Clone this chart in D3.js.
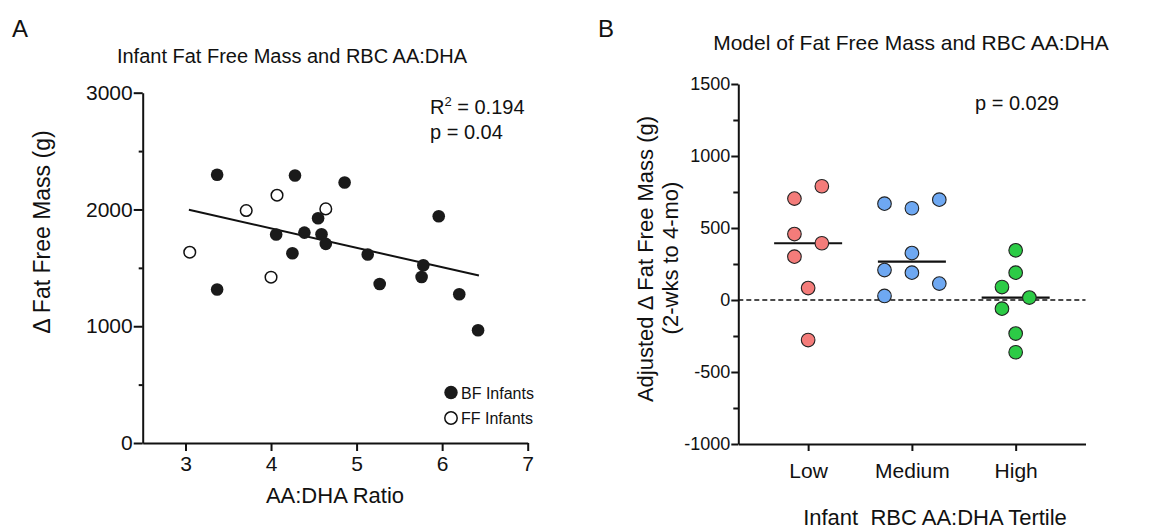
<!DOCTYPE html>
<html>
<head>
<meta charset="utf-8">
<script src="https://cdn.jsdelivr.net/npm/d3@7"></script>
<style>
  body { margin: 0; background: #fff; }
  svg text { font-family: "Liberation Sans", Arial, sans-serif; fill: #111; }
</style>
</head>
<body>
<div id="chart"></div>
<script>
// Panel A: infant fat free mass vs RBC AA:DHA ratio
const bfRatio = [3.37, 3.37, 4.28, 4.86, 4.06, 4.25, 4.39, 4.55, 4.59, 4.64, 5.13, 5.27, 5.78, 5.76, 5.96, 6.20, 6.42];
const bfMass = [2297, 1314, 2291, 2231, 1785, 1625, 1802, 1925, 1788, 1705, 1614, 1362, 1522, 1422, 1942, 1274, 965];
const ffRatio = [3.05, 3.71, 4.07, 4.64, 4.00];
const ffMass = [1634, 1991, 2122, 2005, 1420];
const fitRatio = [3.04, 6.43];
const fitMass = [1997, 1434];
const ratioTicks = [3, 4, 5, 6, 7];
const massTicks = [0, 1000, 2000, 3000];
const massMinor = [500, 1500, 2500];

// Panel B: adjusted change by tertile
const tertiles = ["Low", "Medium", "High"];
const lowValues = [704, 790, 458, 394, 301, 83, -278];
const lowSlot = [-1, 1, -1, 1, -1, 0, 0];
const mediumValues = [669, 637, 697, 326, 208, 190, 114, 28];
const mediumSlot = [-2, 0, 2, 0, -2, 0, 2, -2];
const highValues = [345, 190, 90, 17, -60, -233, -363];
const highSlot = [0, 0, -1, 1, -1, 0, 0];
const adjTicks = [-1000, -500, 0, 500, 1000, 1500];
const adjMinor = [-750, -250, 250, 750, 1250];
const tertileColors = ["#f47c7a", "#6ea8f2", "#2ccb46"];

// plain labels with an ascii hyphen, like the original figure
const plain = (d) => String(d);

const svg = d3.select("#chart")
  .append("svg")
  .attr("width", 1160)
  .attr("height", 530);

svg.append("rect").attr("width", 1160).attr("height", 530).attr("fill", "#fff");

// ---------- Panel A ----------
const xA = d3.scaleLinear().domain([2.5, 7]).range([142.7, 527.7]);
const yA = d3.scaleLinear().domain([0, 3000]).range([443, 92.7]);

svg.append("text").attr("x", 12).attr("y", 37).style("font-size", "24px").text("A");
svg.append("text").attr("x", 292).attr("y", 63).attr("text-anchor", "middle")
  .style("font-size", "20px").text("Infant Fat Free Mass and RBC AA:DHA");

const gA = svg.append("g");

// minor ticks first so the major axis draws over them
gA.append("g")
  .attr("transform", `translate(${xA(2.5)},0)`)
  .call(d3.axisLeft(yA).tickValues(massMinor).tickSize(4).tickFormat(""))
  .call((g) => g.select(".domain").remove())
  .call((g) => g.selectAll("line").attr("stroke", "#111").attr("stroke-width", 2));

gA.append("g")
  .attr("transform", `translate(${xA(2.5)},0)`)
  .call(d3.axisLeft(yA).tickValues(massTicks).tickFormat(plain).tickSize(9).tickSizeOuter(0).tickPadding(1))
  .call((g) => g.select(".domain").attr("stroke", "#111").attr("stroke-width", 2))
  .call((g) => g.selectAll("line").attr("stroke", "#111").attr("stroke-width", 2))
  .call((g) => g.selectAll("text").style("font-size", "21px").attr("fill", "#111"));

gA.append("g")
  .attr("transform", `translate(0,${yA(0)})`)
  .call(d3.axisBottom(xA).tickValues(ratioTicks).tickFormat(plain).tickSize(8).tickSizeOuter(0).tickPadding(5))
  .call((g) => g.select(".domain").attr("stroke", "#111").attr("stroke-width", 2))
  .call((g) => g.selectAll("line").attr("stroke", "#111").attr("stroke-width", 2))
  .call((g) => g.selectAll("text").style("font-size", "21px").attr("fill", "#111"));

svg.append("text").attr("x", 335).attr("y", 503).attr("text-anchor", "middle")
  .style("font-size", "22px").text("AA:DHA Ratio");

svg.append("text")
  .attr("transform", "translate(50,232) rotate(-90)")
  .attr("text-anchor", "middle")
  .style("font-size", "23px")
  .text("\u0394 Fat Free Mass (g)");

// regression line
gA.append("line")
  .attr("x1", xA(fitRatio[0])).attr("y1", yA(fitMass[0]))
  .attr("x2", xA(fitRatio[1])).attr("y2", yA(fitMass[1]))
  .attr("stroke", "#111").attr("stroke-width", 2);

gA.selectAll(".ff")
  .data(ffRatio)
  .enter()
  .append("circle")
  .attr("cx", (d) => xA(d))
  .attr("cy", (d, i) => yA(ffMass[i]))
  .attr("r", 5.8)
  .attr("fill", "#fff")
  .attr("stroke", "#111")
  .attr("stroke-width", 1.5);

gA.selectAll(".bf")
  .data(bfRatio)
  .enter()
  .append("circle")
  .attr("cx", (d) => xA(d))
  .attr("cy", (d, i) => yA(bfMass[i]))
  .attr("r", 6.3)
  .attr("fill", "#1a1a1a");

const statA = svg.append("text").attr("x", 430).attr("y", 114).style("font-size", "20px");
statA.append("tspan").text("R");
statA.append("tspan").attr("dy", -8).style("font-size", "13px").text("2");
statA.append("tspan").attr("dy", 8).text(" = 0.194");
svg.append("text").attr("x", 430).attr("y", 139).style("font-size", "20px").text("p = 0.04");

// legend
svg.append("circle").attr("cx", 451).attr("cy", 392.5).attr("r", 6.7).attr("fill", "#1a1a1a");
svg.append("circle").attr("cx", 451).attr("cy", 418).attr("r", 6.2)
  .attr("fill", "#fff").attr("stroke", "#111").attr("stroke-width", 1.5);
svg.append("text").attr("x", 461).attr("y", 398.5).style("font-size", "16px").text("BF Infants");
svg.append("text").attr("x", 461).attr("y", 424).style("font-size", "16px").text("FF Infants");

// ---------- Panel B ----------
const xB = d3.scalePoint().domain(tertiles).range([738.3, 1085.5]).padding(0.673);
const yB = d3.scaleLinear().domain([-1000, 1500]).range([444, 84]);
const slotWidth = 13.7;

svg.append("text").attr("x", 598).attr("y", 37).style("font-size", "24px").text("B");
svg.append("text").attr("x", 911).attr("y", 50).attr("text-anchor", "middle")
  .style("font-size", "21px").text("Model of Fat Free Mass and RBC AA:DHA");

const gB = svg.append("g");

gB.append("g")
  .attr("transform", `translate(${xB.range()[0]},0)`)
  .call(d3.axisLeft(yB).tickValues(adjMinor).tickSize(5).tickFormat(""))
  .call((g) => g.select(".domain").remove())
  .call((g) => g.selectAll("line").attr("stroke", "#111").attr("stroke-width", 2));

gB.append("g")
  .attr("transform", `translate(${xB.range()[0]},0)`)
  .call(d3.axisLeft(yB).tickValues(adjTicks).tickFormat(plain).tickSize(7).tickSizeOuter(0).tickPadding(1))
  .call((g) => g.select(".domain").attr("stroke", "#111").attr("stroke-width", 2))
  .call((g) => g.selectAll("line").attr("stroke", "#111").attr("stroke-width", 2))
  .call((g) => g.selectAll("text").style("font-size", "18px").attr("fill", "#111"));

gB.append("g")
  .attr("transform", `translate(0,${yB(-1000)})`)
  .call(d3.axisBottom(xB).tickSize(7).tickSizeOuter(0).tickPadding(12))
  .call((g) => g.select(".domain").attr("stroke", "#111").attr("stroke-width", 2))
  .call((g) => g.selectAll("line").attr("stroke", "#111").attr("stroke-width", 2))
  .call((g) => g.selectAll("text").style("font-size", "21px").attr("fill", "#111"));

svg.append("text").attr("x", 935).attr("y", 525).attr("text-anchor", "middle")
  .attr("xml:space", "preserve").style("white-space", "pre")
  .style("font-size", "22px").text("Infant  RBC AA:DHA Tertile");

svg.append("text")
  .attr("transform", "translate(653,259) rotate(-90)")
  .attr("text-anchor", "middle")
  .style("font-size", "22px")
  .text("Adjusted \u0394 Fat Free Mass (g)");
svg.append("text")
  .attr("transform", "translate(678,258) rotate(-90)")
  .attr("text-anchor", "middle")
  .style("font-size", "22px")
  .text("(2-wks to 4-mo)");

// dashed zero line
gB.append("line")
  .attr("x1", xB.range()[0]).attr("x2", xB.range()[1])
  .attr("y1", yB(0)).attr("y2", yB(0))
  .attr("stroke", "#111").attr("stroke-width", 1.5).attr("stroke-dasharray", "5,3");

const groups = [
  { name: "Low", values: lowValues, slots: lowSlot },
  { name: "Medium", values: mediumValues, slots: mediumSlot },
  { name: "High", values: highValues, slots: highSlot },
];

groups.forEach((grp, gi) => {
  const cx = xB(grp.name);
  const med = d3.median(grp.values);
  gB.append("line")
    .attr("x1", cx - 34).attr("x2", cx + 34)
    .attr("y1", yB(med)).attr("y2", yB(med))
    .attr("stroke", "#111").attr("stroke-width", 2.2);

  gB.selectAll(`.dot-${gi}`)
    .data(grp.values)
    .enter()
    .append("circle")
    .attr("cx", (d, i) => cx + grp.slots[i] * slotWidth)
    .attr("cy", (d) => yB(d))
    .attr("r", 6.8)
    .attr("fill", tertileColors[gi])
    .attr("stroke", "#222")
    .attr("stroke-width", 1.1);
});

svg.append("text").attr("x", 975).attr("y", 110).style("font-size", "20px").text("p = 0.029");
</script>
</body>
</html>
